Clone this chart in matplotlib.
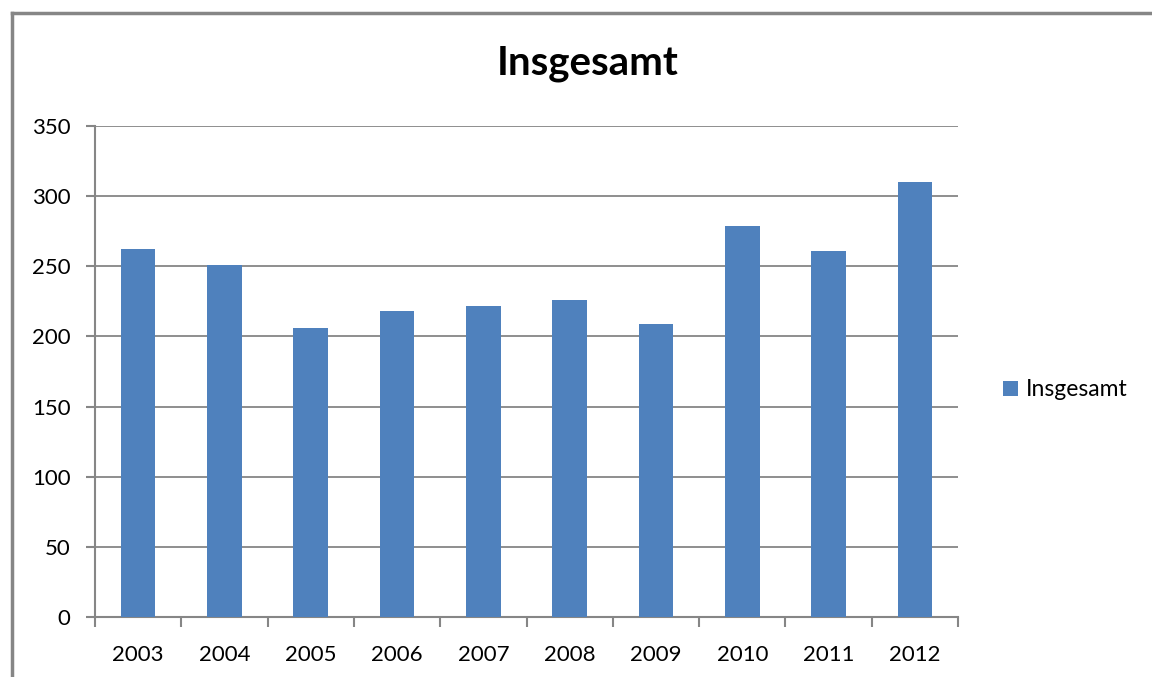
import matplotlib
matplotlib.use("Agg")
import matplotlib.pyplot as plt
from matplotlib.lines import Line2D
from matplotlib.patches import Patch

years = ["2003", "2004", "2005", "2006", "2007", "2008", "2009", "2010", "2011", "2012"]
values = [262, 251, 206, 218, 222, 226, 209, 279, 261, 310]
series_name = "Insgesamt"
title = "Insgesamt"
yticks = [0, 50, 100, 150, 200, 250, 300, 350]

plt.rcParams['font.family'] = ['Lato', 'DejaVu Sans']
grey = "#868686"
bar_color = "#4F81BD"

fig = plt.figure(figsize=(11.52, 6.77), dpi=100)
ax = fig.add_axes([95/1152, 60/677, (958-95)/1152, (617-126)/677])

x = list(range(len(years)))
ax.bar(x, values, width=0.4, color=bar_color, zorder=3)

ax.set_xlim(-0.5, len(years) - 0.5)
ax.set_ylim(0, 350)
ax.set_yticks(yticks)
ax.set_yticklabels([str(t) for t in yticks], fontsize=16)
ax.set_xticks(x)
ax.set_xticklabels(years, fontsize=16)
ax.set_xticks([i - 0.5 for i in range(len(years) + 1)], minor=True)
ax.tick_params(axis='x', which='major', length=0, pad=20, colors='black')
ax.tick_params(axis='x', which='minor', length=7, width=1.5, color=grey, direction='out')
ax.tick_params(axis='y', which='major', length=6.5, width=1.5, color=grey, pad=11, direction='out')
ax.yaxis.grid(True, color=grey, linewidth=1.3, zorder=0)
ax.set_axisbelow(True)
for s in ['top', 'right']:
    ax.spines[s].set_visible(False)
for s in ['left', 'bottom']:
    ax.spines[s].set_color(grey)
    ax.spines[s].set_linewidth(1.5)

fig.text(588/1152, 1 - 63/677, title, fontsize=29, fontweight='bold', ha='center', va='center')

handle = Patch(facecolor=bar_color, edgecolor='none')
fig.legend([handle], [series_name], loc='center left', bbox_to_anchor=(982/1152, 1 - 390/677),
           frameon=False, fontsize=16.5, handlelength=0.65, handleheight=0.65, handletextpad=0.35)

# chart frame (partially visible)
fig.add_artist(Line2D([12/1152, 12/1152], [0, 1 - 13/677], transform=fig.transFigure, color=grey, linewidth=2.5))
fig.add_artist(Line2D([12/1152, 1], [1 - 13/677, 1 - 13/677], transform=fig.transFigure, color=grey, linewidth=2.5))

fig.savefig("out.png", dpi=100, facecolor='white')
